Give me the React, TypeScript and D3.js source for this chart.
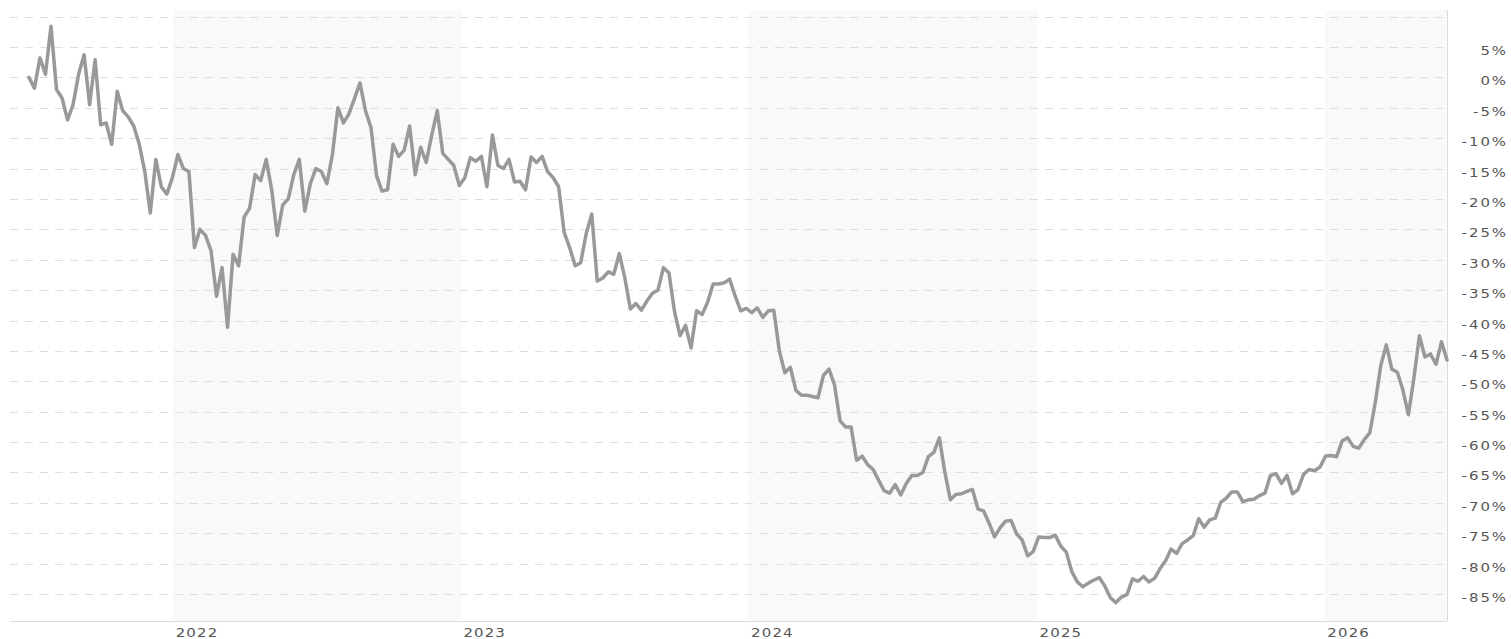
import React from 'react';
import * as d3 from 'd3';

// ---- data ----
const FIRST_WEEK = '2021-07-02'; // weekly closes, one value per week
const DOMAIN_START = '2021-06-08';
const DOMAIN_END = '2026-06-05';

const changePct: number[] = [
  0.0, -1.8, 3.2, 0.5, 8.4, -2.0, -3.4, -7.0, -4.5, 0.5,
  3.7, -4.5, 2.9, -7.8, -7.5, -11.0, -2.3, -5.5, -6.5, -8.0,
  -11.0, -15.5, -22.3, -13.5, -18.0, -19.2, -16.5, -12.7, -15.0, -15.5,
  -28.0, -25.0, -26.0, -28.5, -36.0, -31.3, -41.1, -29.1, -31.0, -23.0,
  -21.5, -16.0, -17.0, -13.5, -18.5, -26.0, -21.0, -20.0, -16.0, -13.5,
  -22.0, -17.5, -15.0, -15.5, -17.5, -12.7, -5.0, -7.5, -6.0, -3.5,
  -0.9, -5.5, -8.3, -16.2, -18.7, -18.5, -11.0, -13.0, -12.0, -8.0,
  -16.0, -11.5, -14.0, -9.5, -5.5, -12.5, -13.5, -14.5, -17.8, -16.5,
  -13.2, -13.8, -13.0, -18.0, -9.5, -14.5, -15.0, -13.5, -17.2, -17.1,
  -18.5, -13.1, -14.0, -13.0, -15.5, -16.5, -18.0, -25.5, -28.0, -31.0,
  -30.5, -25.7, -22.5, -33.5, -33.0, -32.0, -32.4, -29.0, -33.0, -38.1,
  -37.2, -38.3, -36.8, -35.5, -35.0, -31.3, -32.2, -38.5, -42.5, -40.8,
  -44.5, -38.4, -39.0, -37.0, -34.0, -34.0, -33.8, -33.2, -36.0, -38.4,
  -38.0, -38.7, -37.9, -39.5, -38.4, -38.3, -45.0, -48.6, -47.7, -51.5,
  -52.3, -52.3, -52.5, -52.7, -49.0, -48.0, -50.6, -56.5, -57.5, -57.5,
  -63.0, -62.3, -63.7, -64.5, -66.3, -68.0, -68.4, -67.0, -68.7, -66.8,
  -65.5, -65.5, -65.0, -62.4, -61.7, -59.3, -65.0, -69.5, -68.6, -68.5,
  -68.1, -67.8, -71.0, -71.3, -73.3, -75.6, -74.1, -73.0, -72.9, -75.1,
  -76.1, -78.7, -78.0, -75.6, -75.7, -75.7, -75.3, -77.1, -78.1, -81.3,
  -83.0, -83.8, -83.2, -82.7, -82.3, -83.7, -85.6, -86.4, -85.5, -85.1,
  -82.5, -82.9, -82.1, -83.0, -82.4, -80.8, -79.5, -77.6, -78.3, -76.7,
  -76.1, -75.4, -72.6, -74.0, -72.8, -72.5, -69.9, -69.2, -68.2, -68.2,
  -69.8, -69.5, -69.4, -68.8, -68.4, -65.5, -65.2, -66.8, -65.5, -68.5,
  -67.8, -65.3, -64.5, -64.7, -64.1, -62.3, -62.2, -62.4, -59.8, -59.3,
  -60.7, -61.0, -59.6, -58.5, -53.5, -47.4, -44.0, -48.0, -48.5, -51.4,
  -55.5, -49.5, -42.5, -46.0, -45.5, -47.2, -43.5, -46.5,
];

const yearTicks: number[] = [2022, 2023, 2024, 2025, 2026];
const gridTicks: number[] = [10, 5, 0, -5, -10, -15, -20, -25, -30, -35, -40, -45, -50, -55, -60, -65, -70, -75, -80, -85];
const labelTicks: number[] = [5, 0, -5, -10, -15, -20, -25, -30, -35, -40, -45, -50, -55, -60, -65, -70, -75, -80, -85];
const Y_MIN = -89.43;
const Y_MAX = 11.08;

// ---- layout ----
const W = 1511;
const H = 639;
const LEFT = 10;
const RIGHT = 1447;
const TOP = 10;
const BOTTOM = 621;

const parse = d3.utcParse('%Y-%m-%d');

export default function App() {
  const start = parse(FIRST_WEEK) as Date;
  const data = changePct.map((v, i) => ({ date: d3.utcDay.offset(start, 7 * i), value: v }));
  const domainStart = parse(DOMAIN_START) as Date;
  const domainEnd = parse(DOMAIN_END) as Date;

  const x = d3.scaleUtc().domain([domainStart, domainEnd]).range([LEFT, RIGHT]);
  const y = d3.scaleLinear().domain([Y_MIN, Y_MAX]).range([BOTTOM, TOP]);

  const line = d3
    .line<{ date: Date; value: number }>()
    .x((d) => x(d.date))
    .y((d) => y(d.value));

  const bands = yearTicks
    .filter((yr) => yr % 2 === 0)
    .map((yr) => {
      const a = new Date(Date.UTC(yr, 0, 1));
      const b = new Date(Math.min(Date.UTC(yr + 1, 0, 1), domainEnd.getTime()));
      return { x0: x(a), x1: x(b) };
    });

  return (
    <div style={{ position: 'absolute', left: 0, top: 0 }}>
      <svg width={W} height={H} style={{ display: 'block', background: '#fff' }}>
        {bands.map((b, i) => (
          <rect key={i} x={b.x0} y={TOP} width={b.x1 - b.x0} height={BOTTOM - TOP} fill="#f9f9f9" />
        ))}
        {gridTicks.map((t) => (
          <line
            key={t}
            x1={LEFT}
            x2={RIGHT}
            y1={Math.round(y(t)) + 0.5}
            y2={Math.round(y(t)) + 0.5}
            stroke="#dddddd"
            strokeWidth={1}
            strokeDasharray="8,7"
          />
        ))}
        <line x1={RIGHT + 0.5} x2={RIGHT + 0.5} y1={TOP} y2={BOTTOM} stroke="#dcdcdc" />
        <line x1={LEFT} x2={RIGHT} y1={BOTTOM + 0.5} y2={BOTTOM + 0.5} stroke="#dcdcdc" />
        <path
          d={line(data) || ''}
          fill="none"
          stroke="#999999"
          strokeWidth={3.5}
          strokeLinejoin="round"
          strokeLinecap="round"
        />
        {labelTicks.map((t) => (
          <text
            key={t}
            transform={`translate(1508, ${y(t) + 8}) scale(1.3, 1)`}
            textAnchor="end"
            fontFamily="DejaVu Sans, Verdana, sans-serif"
            fontSize={11.5}
            fill="#555"
            style={{ letterSpacing: '1.5px' }}
          >
            {`${t}%`}
          </text>
        ))}
        {yearTicks.map((yr) => (
          <text
            key={yr}
            transform={`translate(${x(new Date(Date.UTC(yr, 0, 1))) + 2.5}, 637) scale(1.15, 1)`}
            fontFamily="DejaVu Sans, Verdana, sans-serif"
            fontSize={13}
            fill="#555"
            style={{ letterSpacing: '1px' }}
          >
            {yr}
          </text>
        ))}
      </svg>
    </div>
  );
}
